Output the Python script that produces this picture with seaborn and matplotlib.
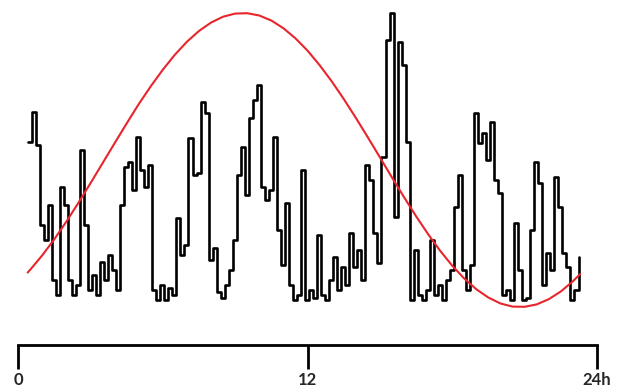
import matplotlib
matplotlib.use("Agg")
import matplotlib.pyplot as plt
import numpy as np
import pandas as pd
import seaborn as sns

sns.set_theme(style="white")
plt.rcParams["font.family"] = ["Lato", "DejaVu Sans"]

# activity counts per 10-minute bin, first bin starts at 0.4 h
bin_start_h = 0.4
bin_width_h = 10 / 60
activity = [
    165, 195, 162, 82, 67, 102, 27, 12, 120, 102,
    27, 12, 22, 157, 82, 17, 32, 12, 45, 27,
    52, 37, 17, 102, 140, 145, 117, 170, 137, 120,
    142, 17, 7, 22, 7, 19, 12, 89, 52, 62,
    169, 132, 134, 205, 194, 47, 59, 15, 9, 22,
    37, 67, 132, 160, 112, 189, 207, 222, 120, 107,
    117, 170, 77, 42, 104, 22, 7, 12, 137, 7,
    17, 9, 72, 12, 7, 27, 50, 17, 40, 22,
    74, 40, 57, 27, 142, 127, 74, 44, 150, 267,
    294, 90, 265, 242, 165, 7, 57, 12, 7, 17,
    67, 12, 22, 7, 27, 37, 100, 132, 37, 17,
    42, 194, 164, 174, 147, 185, 127, 114, 12, 17,
    7, 84, 37, 7, 9, 77, 145, 124, 22, 54,
    37, 130, 100, 54, 40, 7, 17, 50,
]

# fitted rhythm curve read every half hour
fit_hours = [0.4, 0.5, 1, 1.5, 2, 2.5, 3, 3.5, 4, 4.5, 5, 5.5, 6, 6.5,
             7, 7.5, 8, 8.5, 9, 9.5, 10, 10.5, 11, 11.5, 12, 12.5,
             13, 13.5, 14, 14.5, 15, 15.5, 16, 16.5, 17, 17.5, 18, 18.5,
             19, 19.5, 20, 20.5, 21, 21.5, 22, 22.5, 23, 23.3]
fit_values = [34.4, 37.1, 51.5, 67.6, 85.2, 104.0, 123.6, 143.6, 163.6,
              183.4, 202.7, 220.6, 237.2, 252.2, 265.2, 276.0, 284.4, 290.3,
              293.4, 293.8, 291.5, 286.5, 278.8, 268.7, 256.4, 241.9, 225.8,
              208.1, 189.3, 169.7, 149.7, 129.6, 109.9, 90.8, 72.8, 56.2,
              41.3, 28.4, 17.7, 9.4, 3.5, 0.4, 0.2, 2.6, 7.8, 15.5, 25.7, 32.9]

tick_hours = [0, 12, 24]
tick_labels = ["0", "12", "24h"]

act = pd.DataFrame({
    "hour": bin_start_h + bin_width_h * np.arange(len(activity)),
    "count": activity,
})
fit = pd.DataFrame({"hour": fit_hours, "count": fit_values})

fig = plt.figure(figsize=(6.32, 3.91), dpi=100)
ax = fig.add_axes([18 / 632, 61 / 391, 579 / 632, 327 / 391])

sns.lineplot(data=act, x="hour", y="count", ax=ax, color="black",
             linewidth=1.9, drawstyle="steps-post")
sns.lineplot(data=fit, x="hour", y="count", ax=ax, color="#e8252c",
             linewidth=1.5)

ax.set_xlim(0, 24)
ax.set_ylim(-23, 304)
ax.set_xlabel("")
ax.set_ylabel("")
ax.set_yticks([])
for side in ["left", "right", "top"]:
    ax.spines[side].set_visible(False)
ax.spines["bottom"].set_position(("outward", 11))
ax.spines["bottom"].set_color("black")
ax.spines["bottom"].set_linewidth(2)
ax.set_xticks(tick_hours)
ax.set_xticklabels(tick_labels, fontsize=12, fontweight="bold")
ax.tick_params(axis="x", direction="out", length=17, width=2,
               color="black", pad=2, bottom=True)

fig.savefig("out.png", dpi=100)
